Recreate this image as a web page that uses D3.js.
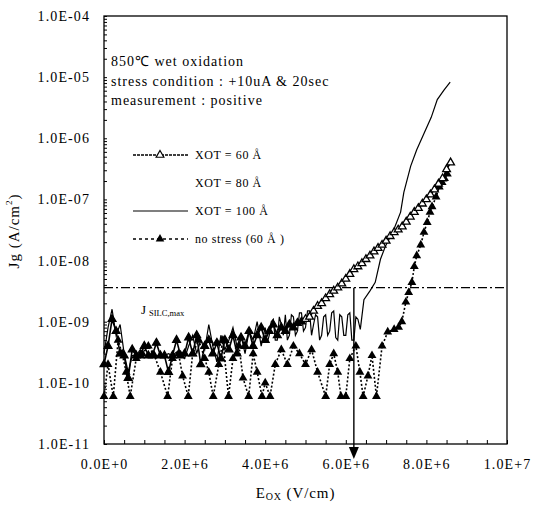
<!DOCTYPE html>
<html>
<head>
<meta charset="utf-8">
<script src="https://cdn.jsdelivr.net/npm/d3@7/dist/d3.min.js"></script>
<style>
    body { margin: 0; background: #fff; }
    svg text { font-family: "Liberation Serif", "Times New Roman", serif; fill: #000; }
</style>
</head>
<body>
<div id="chart"></div>
<script>
// oxide field in MV/cm, gate current density Jg in A/cm^2
const field60 = [0.0, 0.1, 0.2, 0.3, 0.4, 0.5, 0.6, 0.7, 0.8, 0.9,
    1.0, 1.1, 1.2, 1.3, 1.4, 1.5, 1.6, 1.7, 1.8, 1.9,
    2.0, 2.1, 2.2, 2.3, 2.4, 2.5, 2.6, 2.7, 2.8, 2.9,
    3.0, 3.1, 3.2, 3.3, 3.4, 3.5, 3.6, 3.7, 3.8, 3.9,
    4.0, 4.1, 4.2, 4.3, 4.4, 4.5, 4.6, 4.7, 4.8, 4.9,
    5.0, 5.1, 5.2, 5.3, 5.4, 5.5, 5.6, 5.7, 5.8, 5.9,
    6.0, 6.1, 6.2, 6.3, 6.4, 6.5, 6.6, 6.7, 6.8, 6.9,
    7.0, 7.1, 7.2, 7.3, 7.4, 7.5, 7.6, 7.7, 7.8, 7.9,
    8.0, 8.1, 8.2, 8.3, 8.4, 8.5, 8.6];
const jg60 = [2e-10, 4e-10, 1.1e-9, 7e-10, 3e-10, 2.8e-10, 1.2e-10, 3.5e-10, 2.8e-10, 2.8e-10,
    4e-10, 2.8e-10, 2.8e-10, 4.5e-10, 2.8e-10, 2.8e-10, 1.5e-10, 2.8e-10, 5e-10, 2.8e-10,
    3e-10, 5.5e-10, 3e-10, 6e-10, 2e-10, 4e-10, 5e-10, 3e-10, 4.5e-10, 2.5e-10,
    5e-10, 3.5e-10, 6e-10, 3e-10, 5.5e-10, 4e-10, 7e-10, 4e-10, 6e-10, 8e-10,
    5e-10, 7e-10, 9e-10, 6e-10, 8e-10, 7e-10, 9e-10, 8e-10, 9.5e-10, 1.0e-9,
    1.1e-9, 1.2e-9, 1.5e-9, 1.8e-9, 2.0e-9, 2.4e-9, 2.8e-9, 3.2e-9, 3.6e-9, 4.2e-9,
    5e-9, 6e-9, 7.2e-9, 8e-9, 9e-9, 1.05e-8, 1.2e-8, 1.4e-8, 1.6e-8, 1.8e-8,
    2.1e-8, 2.5e-8, 2.9e-8, 3.2e-8, 3.6e-8, 4.3e-8, 5.2e-8, 6.2e-8, 7.2e-8, 8.5e-8,
    1.0e-7, 1.2e-7, 1.45e-7, 1.8e-7, 2.2e-7, 3.1e-7, 4.0e-7];

const field100 = [0.0, 0.1, 0.2, 0.3, 0.4, 0.5, 0.6, 0.7, 0.8, 0.9,
    1.0, 1.1, 1.2, 1.3, 1.4, 1.5, 1.6, 1.7, 1.8, 1.9,
    2.0, 2.1, 2.2, 2.3, 2.4, 2.5, 2.6, 2.7, 2.8, 2.9,
    3.0, 3.1, 3.2, 3.3, 3.4, 3.5, 3.6, 3.7, 3.8, 3.9,
    4.0, 4.05, 4.1, 4.15, 4.2, 4.25, 4.3, 4.35, 4.4, 4.45,
    4.5, 4.55, 4.6, 4.65, 4.7, 4.75, 4.8, 4.85, 4.9, 4.95,
    5.0, 5.05, 5.1, 5.15, 5.2, 5.25, 5.3, 5.35, 5.4, 5.45,
    5.5, 5.55, 5.6, 5.65, 5.7, 5.75, 5.8, 5.85, 5.9, 5.95,
    6.0, 6.05, 6.1, 6.15, 6.2, 6.25, 6.3, 6.36, 6.45, 6.6,
    6.73, 6.86, 6.98, 7.19, 7.36, 7.44, 7.61, 7.76, 7.94, 8.12,
    8.27, 8.44, 8.59];
const jg100 = [3e-10, 8e-10, 1.6e-9, 6e-10, 9e-10, 3e-10, 1.5e-10, 2.8e-10, 2.8e-10, 3.5e-10,
    2.8e-10, 2.8e-10, 3e-10, 2.8e-10, 2.6e-10, 2.8e-10, 3e-10, 2.8e-10, 3.2e-10, 2.8e-10,
    2.5e-10, 4e-10, 6e-10, 3e-10, 5e-10, 3.5e-10, 9e-10, 4e-10, 2.2e-10, 6e-10,
    3.5e-10, 5e-10, 8e-10, 4e-10, 6e-10, 3e-10, 7e-10, 5e-10, 1e-9, 4e-10,
    8e-10, 4.5e-10, 6e-10, 1e-9, 1.1e-9, 5e-10, 5e-10, 1.2e-9, 9e-10, 6e-10,
    1.3e-9, 5e-10, 6e-10, 1.3e-9, 1.2e-9, 6e-10, 7e-10, 1.4e-9, 1.4e-9, 7e-10,
    8e-10, 1.5e-9, 1.5e-9, 6e-10, 9e-10, 1.3e-9, 1.2e-9, 5e-10, 6e-10, 1.2e-9,
    1.3e-9, 6e-10, 7e-10, 1.4e-9, 1.5e-9, 5.5e-10, 5e-10, 1.3e-9, 1.2e-9, 6e-10,
    6e-10, 1.3e-9, 1.4e-9, 5e-10, 5e-10, 1.2e-9, 1.1e-9, 7.5e-10, 2.3e-9, 3.2e-9,
    4.4e-9, 1.05e-8, 1.7e-8, 3.2e-8, 6.2e-8, 1.3e-7, 3.5e-7, 6.5e-7, 1.2e-6, 2.2e-6,
    4.3e-6, 6.2e-6, 8.3e-6];

const fieldNoStress = [0.0, 0.1, 0.23, 0.35, 0.45, 0.55, 0.65, 0.8, 0.95, 1.1,
    1.25, 1.4, 1.58, 1.7, 1.85, 1.95, 2.09, 2.2, 2.35, 2.5,
    2.6, 2.71, 2.85, 2.95, 3.09, 3.2, 3.35, 3.45, 3.59, 3.7,
    3.8, 3.92, 4.0, 4.12, 4.25, 4.4, 4.55, 4.7, 4.85, 5.0,
    5.15, 5.3, 5.5, 5.6, 5.7, 5.8, 5.88, 6.0, 6.1, 6.25,
    6.35, 6.43, 6.55, 6.65, 6.76, 6.9, 7.04, 7.2, 7.31, 7.39,
    7.49, 7.56, 7.64, 7.7, 7.76, 7.86, 7.94, 8.02, 8.09, 8.14,
    8.24, 8.32, 8.39, 8.45, 8.52];
const jgNoStress = [6e-11, 2e-10, 6e-11, 5e-10, 3e-10, 1.5e-10, 6e-11, 2.5e-10, 3e-10, 4e-10,
    2.8e-10, 1.5e-10, 6e-11, 2.5e-10, 3e-10, 1.3e-10, 6e-11, 3e-10, 5e-10, 2.5e-10,
    1.5e-10, 6e-11, 2e-10, 5e-10, 6e-11, 2.5e-10, 4e-10, 1.2e-10, 6e-11, 3e-10,
    1.5e-10, 6e-11, 1e-10, 6e-11, 2e-10, 3.5e-10, 2e-10, 4e-10, 3e-10, 2e-10,
    3.5e-10, 1.5e-10, 6e-11, 2e-10, 3e-10, 1.5e-10, 6e-11, 6e-11, 2.5e-10, 4e-10,
    1.5e-10, 6e-11, 1.3e-10, 2.8e-10, 6e-11, 4e-10, 6.8e-10, 7.5e-10, 8.1e-10, 1.0e-9,
    2.1e-9, 3.0e-9, 4.4e-9, 8e-9, 1.2e-8, 1.8e-8, 2.9e-8, 4.2e-8, 6.2e-8, 7.6e-8,
    1.1e-7, 1.6e-7, 1.9e-7, 2.2e-7, 2.6e-7];

const xTicks = [0, 2e6, 4e6, 6e6, 8e6, 1e7];
const xTickLabels = ['0.0E+0', '2.0E+6', '4.0E+6', '6.0E+6', '8.0E+6', '1.0E+7'];
const yTicks = [1e-11, 1e-10, 1e-9, 1e-8, 1e-7, 1e-6, 1e-5, 1e-4];
const yTickLabels = ['1.0E-11', '1.0E-10', '1.0E-09', '1.0E-08', '1.0E-07', '1.0E-06', '1.0E-05', '1.0E-04'];

const jSilcMax = 3.6e-9;
const arrowField = 6.2e6;

const legendLabels = ['XOT = 60 Å', 'XOT = 80 Å', 'XOT = 100 Å', 'no stress (60 Å )'];
const noteLines = ['850℃ wet oxidation', 'stress condition : +10uA & 20sec', 'measurement : positive'];

class JgChart {
    constructor(_config) {
        this.config = {
            parentElement: _config.parentElement,
            containerWidth: _config.containerWidth || 537,
            containerHeight: _config.containerHeight || 507,
            margin: { top: 16, bottom: 63, right: 30, left: 104 }
        };
        this.initVis();
    }

    initVis() {
        let vis = this;
        let m = vis.config.margin;

        vis.width = vis.config.containerWidth - m.left - m.right;
        vis.height = vis.config.containerHeight - m.top - m.bottom;

        vis.xScale = d3.scaleLinear().domain([0, 1e7]).range([0, vis.width]);
        vis.yScale = d3.scaleLog().domain([1e-11, 1e-4]).range([vis.height, 0]);

        vis.svg = d3.select(vis.config.parentElement).append('svg')
            .attr('width', vis.config.containerWidth)
            .attr('height', vis.config.containerHeight);

        vis.chart = vis.svg.append('g')
            .attr('transform', `translate(${m.left},${m.top})`);

        // frame
        vis.chart.append('rect')
            .attr('width', vis.width)
            .attr('height', vis.height)
            .attr('fill', 'none')
            .attr('stroke', '#000')
            .attr('stroke-width', 1.3);

        // minor ticks pointing inwards
        vis.chart.append('g')
            .call(d3.axisRight(vis.yScale).tickValues(vis.yScale.ticks()).tickSize(3).tickFormat(''))
            .call(g => g.select('.domain').remove());
        vis.chart.append('g')
            .attr('transform', `translate(0,${vis.height})`)
            .call(d3.axisTop(vis.xScale).ticks(20).tickSize(4).tickFormat(''))
            .call(g => g.select('.domain').remove());

        // tick labels
        vis.chart.append('g')
            .call(d3.axisLeft(vis.yScale).tickValues(yTicks)
                .tickFormat((d, i) => yTickLabels[i]).tickSize(0).tickPadding(14))
            .call(g => g.select('.domain').remove())
            .selectAll('text')
            .attr('font-size', 14)
            .attr('letter-spacing', 1.1);

        vis.chart.append('g')
            .attr('transform', `translate(0,${vis.height})`)
            .call(d3.axisBottom(vis.xScale).tickValues(xTicks)
                .tickFormat((d, i) => xTickLabels[i]).tickSize(0).tickPadding(15))
            .call(g => g.select('.domain').remove())
            .selectAll('text')
            .attr('font-size', 14)
            .attr('letter-spacing', 1.1);

        // axis titles
        let yt = vis.svg.append('text')
            .attr('transform', `translate(19,${m.top + vis.height / 2 + 1}) rotate(-90)`)
            .attr('text-anchor', 'middle')
            .attr('letter-spacing', 1)
            .attr('font-size', 15);
        yt.append('tspan').text('Jg  (A/cm');
        yt.append('tspan').attr('font-size', 9).attr('dy', -7).text('2');
        yt.append('tspan').attr('dy', 7).text(')');

        let xt = vis.svg.append('text')
            .attr('x', m.left + vis.width / 2 - 10)
            .attr('y', 498)
            .attr('text-anchor', 'middle')
            .attr('letter-spacing', 0.9)
            .attr('font-size', 15);
        xt.append('tspan').text('E');
        xt.append('tspan').attr('font-size', 10).attr('dy', 2).text('OX');
        xt.append('tspan').attr('dy', -2).text('  (V/cm)');

        vis.updateVis();
    }

    updateVis() {
        let vis = this;
        const toPoints = (fields, values) => fields.map((f, i) => ({ e: f * 1e6, j: values[i] }));
        vis.series60 = toPoints(field60, jg60);
        vis.series100 = toPoints(field100, jg100);
        vis.seriesNoStress = toPoints(fieldNoStress, jgNoStress);
        vis.renderVis();
    }

    renderVis() {
        let vis = this;
        let line = d3.line().x(d => vis.xScale(d.e)).y(d => vis.yScale(d.j));
        let tri = d3.symbol(d3.symbolTriangle);

        // J_SILC,max reference line
        vis.chart.append('line')
            .attr('x1', 0).attr('x2', vis.width)
            .attr('y1', vis.yScale(jSilcMax)).attr('y2', vis.yScale(jSilcMax))
            .attr('stroke', '#000').attr('stroke-width', 1.3)
            .attr('stroke-dasharray', '9,3,2,3');
        let lbl = vis.chart.append('text')
            .attr('x', 37).attr('y', vis.yScale(jSilcMax) + 26)
            .attr('font-size', 13);
        lbl.append('tspan').text('J');
        lbl.append('tspan').attr('font-size', 8.5).attr('dy', 2).attr('dx', 3).text('SILC,max');

        // no stress: dotted, filled triangles
        vis.chart.append('path')
            .datum(vis.seriesNoStress)
            .attr('fill', 'none').attr('stroke', '#000').attr('stroke-width', 1.6)
            .attr('stroke-dasharray', '2,2')
            .attr('d', line);
        vis.chart.append('g').selectAll('path')
            .data(vis.seriesNoStress)
            .join('path')
            .attr('transform', d => `translate(${vis.xScale(d.e)},${vis.yScale(d.j)})`)
            .attr('d', tri.size(34))
            .attr('fill', '#000');

        // XOT = 100 A: plain line
        vis.chart.append('path')
            .datum(vis.series100)
            .attr('fill', 'none').attr('stroke', '#000').attr('stroke-width', 1.2)
            .attr('d', line);

        // XOT = 60 A: line with open triangles (blackened by overlap in the noisy part)
        vis.chart.append('path')
            .datum(vis.series60)
            .attr('fill', 'none').attr('stroke', '#000').attr('stroke-width', 1.6)
            .attr('d', line);
        vis.chart.append('g').selectAll('path')
            .data(vis.series60)
            .join('path')
            .attr('transform', d => `translate(${vis.xScale(d.e)},${vis.yScale(d.j)})`)
            .attr('d', tri.size(26))
            .attr('fill', d => d.e < 5e6 ? '#000' : '#fff')
            .attr('stroke', '#000').attr('stroke-width', 1.3);

        // arrow from J_SILC,max down to the field axis
        let ax = vis.xScale(arrowField);
        vis.chart.append('line')
            .attr('x1', ax).attr('x2', ax)
            .attr('y1', vis.yScale(jSilcMax)).attr('y2', vis.height + 4)
            .attr('stroke', '#000').attr('stroke-width', 1.4);
        vis.chart.append('path')
            .attr('d', `M${ax - 5},${vis.height + 3} L${ax + 5},${vis.height + 3} L${ax},${vis.height + 15} Z`)
            .attr('fill', '#000');

        // legend
        let legend = vis.chart.append('g')
            .attr('font-size', 12)
            .attr('letter-spacing', 0.6)
            .selectAll('g')
            .data(legendLabels)
            .join('g')
            .attr('transform', (d, i) => `translate(29,${139 + i * 28})`);
        legend.append('text')
            .attr('x', 62).attr('dy', '0.35em')
            .text(d => d);
        legend.filter((d, i) => i === 0).append('line')
            .attr('x1', 0).attr('x2', 55)
            .attr('stroke', '#000').attr('stroke-width', 1.3).attr('stroke-dasharray', '3,1');
        legend.filter((d, i) => i === 0).append('path')
            .attr('transform', 'translate(27,0)')
            .attr('d', tri.size(26))
            .attr('fill', '#fff').attr('stroke', '#000').attr('stroke-width', 1.2);
        legend.filter((d, i) => i === 2).append('line')
            .attr('x1', 0).attr('x2', 55)
            .attr('stroke', '#000').attr('stroke-width', 1.2);
        legend.filter((d, i) => i === 3).append('line')
            .attr('x1', 0).attr('x2', 55)
            .attr('stroke', '#000').attr('stroke-width', 1.5).attr('stroke-dasharray', '3,3');
        legend.filter((d, i) => i === 3).append('path')
            .attr('transform', 'translate(27,0)')
            .attr('d', tri.size(32))
            .attr('fill', '#000');

        // notes
        vis.chart.append('g')
            .attr('font-size', 14)
            .attr('letter-spacing', 1.0)
            .selectAll('text')
            .data(noteLines)
            .join('text')
            .attr('x', 7)
            .attr('y', (d, i) => 50 + i * 19.5)
            .text(d => d);
    }
}

new JgChart({ parentElement: '#chart' });
</script>
</body>
</html>
